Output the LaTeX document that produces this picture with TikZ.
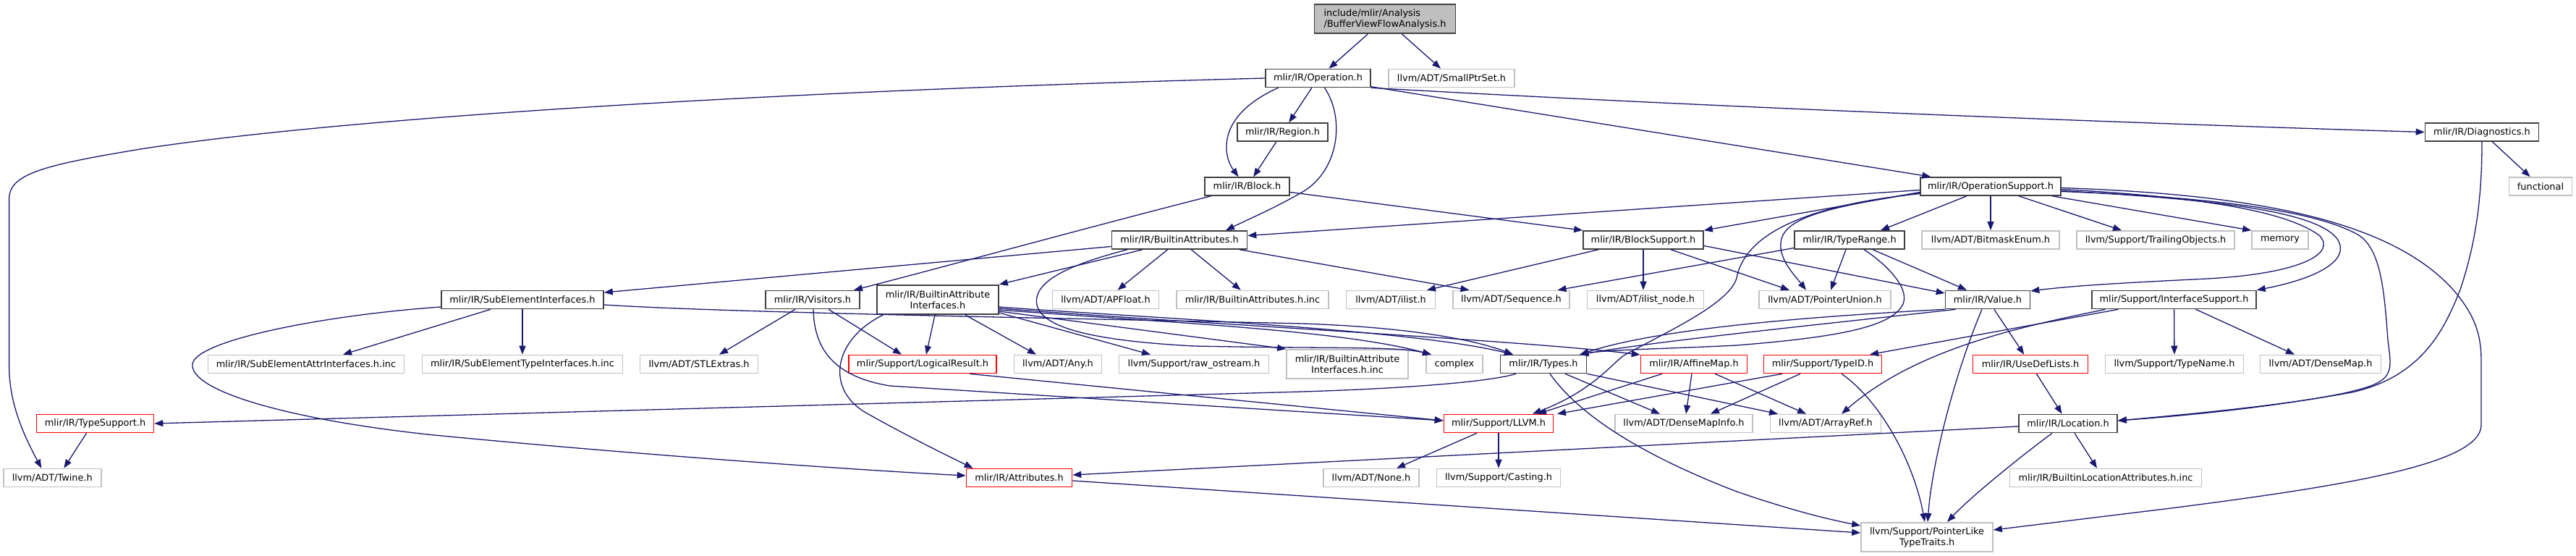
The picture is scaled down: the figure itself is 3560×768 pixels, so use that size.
\documentclass[tikz,border=0pt]{standalone}
\usepackage{fontspec}
\setmainfont{DejaVu Sans}
\usetikzlibrary{arrows.meta,calc}
\definecolor{edgec}{HTML}{191970}
\definecolor{grayb}{HTML}{C0C0C0}
\definecolor{darkb}{HTML}{404040}
\definecolor{redb}{HTML}{FF0000}
\definecolor{rootfill}{HTML}{BFBFBF}
\begin{document}
\begin{tikzpicture}[x=1pt,y=-1pt,
  nbase/.style={rectangle, inner sep=0pt, minimum height=25pt, line width=1.6pt,
    font=\fontsize{12.9pt}{15pt}\selectfont, text=black},
  bk/.style={nbase, draw=darkb},
  gy/.style={nbase, draw=grayb},
  rd/.style={nbase, draw=redb},
  two/.style={minimum height=40.5pt, align=center},
  e/.style={draw=edgec, line width=1.3pt, -{Triangle[length=12pt,width=9pt]}}]
\useasboundingbox (0,0) rectangle (3560,768);
% row 0
\node[bk, fill=rootfill, minimum width=195pt, minimum height=40.5pt, align=left] (root) at (1914,26) {include/mlir/Analysis\\/BufferViewFlowAnalysis.h};
% row 1
\node[bk, minimum width=145pt] (op) at (1821.5,108) {mlir/IR/Operation.h};
\node[gy, minimum width=174pt] (sps) at (2006,108) {llvm/ADT/SmallPtrSet.h};
% row 2
\node[bk, minimum width=125pt] (region) at (1772.5,182.5) {mlir/IR/Region.h};
\node[bk, minimum width=157pt] (diag) at (3430,182.5) {mlir/IR/Diagnostics.h};
% row 3
\node[bk, minimum width=117pt] (block) at (1723.5,257.5) {mlir/IR/Block.h};
\node[bk, minimum width=194pt] (opsup) at (2751,257.5) {mlir/IR/OperationSupport.h};
\node[gy, minimum width=87pt] (func) at (3511,257.5) {functional};
% row 4
\node[bk, minimum width=187pt] (battr) at (1630,331.5) {mlir/IR/BuiltinAttributes.h};
\node[bk, minimum width=166pt] (bsup) at (2271,331.5) {mlir/IR/BlockSupport.h};
\node[bk, minimum width=152pt] (trange) at (2556,331.5) {mlir/IR/TypeRange.h};
\node[gy, minimum width=190pt] (bitmask) at (2751,331.5) {llvm/ADT/BitmaskEnum.h};
\node[gy, minimum width=218pt] (trailing) at (2979,331.5) {llvm/Support/TrailingObjects.h};
\node[gy, minimum width=78pt] (memory) at (3151,331.5) {memory};
% row 5
\node[bk, minimum width=224pt] (subel) at (722,414) {mlir/IR/SubElementInterfaces.h};
\node[bk, minimum width=130pt] (visitors) at (1123,414) {mlir/IR/Visitors.h};
\node[bk, two, minimum width=168pt] (bai) at (1296,414) {mlir/IR/BuiltinAttribute\\Interfaces.h};
\node[gy, minimum width=147pt] (apfloat) at (1528,414) {llvm/ADT/APFloat.h};
\node[gy, minimum width=210pt] (bainc) at (1731,414) {mlir/IR/BuiltinAttributes.h.inc};
\node[gy, minimum width=123pt] (ilist) at (1922,414) {llvm/ADT/ilist.h};
\node[gy, minimum width=161pt] (seq) at (2088.5,414) {llvm/ADT/Sequence.h};
\node[gy, minimum width=161pt] (ilnode) at (2274,414) {llvm/ADT/ilist\_node.h};
\node[gy, minimum width=182pt] (punion) at (2522,414) {llvm/ADT/PointerUnion.h};
\node[bk, minimum width=117pt] (value) at (2747,414) {mlir/IR/Value.h};
\node[bk, minimum width=227pt] (isup) at (3004.5,414) {mlir/Support/InterfaceSupport.h};
% row 6
\node[gy, minimum width=271pt] (seattr) at (423,503) {mlir/IR/SubElementAttrInterfaces.h.inc};
\node[gy, minimum width=277pt] (setype) at (722,503) {mlir/IR/SubElementTypeInterfaces.h.inc};
\node[gy, minimum width=163pt] (stl) at (966,503) {llvm/ADT/STLExtras.h};
\node[rd, minimum width=204pt] (logres) at (1275,503) {mlir/Support/LogicalResult.h};
\node[gy, minimum width=121pt] (any) at (1462,503) {llvm/ADT/Any.h};
\node[gy, minimum width=207pt] (rawos) at (1650,503) {llvm/Support/raw\_ostream.h};
\node[gy, two, minimum width=168pt] (baiinc) at (1862,503) {mlir/IR/BuiltinAttribute\\Interfaces.h.inc};
\node[gy, minimum width=78pt] (complex) at (2010,503) {complex};
\node[bk, minimum width=119pt] (types) at (2133,503) {mlir/IR/Types.h};
\node[rd, minimum width=147pt] (affine) at (2341,503) {mlir/IR/AffineMap.h};
\node[rd, minimum width=163pt] (typeid) at (2519,503) {mlir/Support/TypeID.h};
\node[rd, minimum width=159pt] (usedef) at (2806,503) {mlir/IR/UseDefLists.h};
\node[gy, minimum width=191pt] (typename) at (3005,503) {llvm/Support/TypeName.h};
\node[gy, minimum width=167pt] (densemap) at (3207,503) {llvm/ADT/DenseMap.h};
% row 7
\node[rd, minimum width=162pt] (typesup) at (131.5,585) {mlir/IR/TypeSupport.h};
\node[rd, minimum width=151pt] (llvm) at (2071,585) {mlir/Support/LLVM.h};
\node[gy, minimum width=190pt] (dmi) at (2327,585) {llvm/ADT/DenseMapInfo.h};
\node[gy, minimum width=153pt] (aref) at (2523,585) {llvm/ADT/ArrayRef.h};
\node[bk, minimum width=136pt] (loc) at (2858,585) {mlir/IR/Location.h};
% row 8
\node[gy, minimum width=135pt] (twine) at (72.3,660) {llvm/ADT/Twine.h};
\node[rd, minimum width=146pt] (attrs) at (1408.5,660) {mlir/IR/Attributes.h};
\node[gy, minimum width=132pt] (none) at (1895,660) {llvm/ADT/None.h};
\node[gy, minimum width=171pt] (casting) at (2071,660) {llvm/Support/Casting.h};
\node[gy, minimum width=265pt] (blattr) at (2910,660) {mlir/IR/BuiltinLocationAttributes.h.inc};
% row 9
\node[gy, two, minimum width=182pt] (pltt) at (2663,742) {llvm/Support/PointerLike\\TypeTraits.h};

% ---- edges ----
\draw[e] (root) -- (op);
\draw[e] (root) -- (sps);
\draw[e] (op.west) .. controls (1100,125) and (500,160) .. (200,205) .. controls (60,228) and (12.6,240) .. (12.6,275) -- (12.6,505) .. controls (12.6,560) and (35,605) .. ($(twine.north)+(-15,0)$);
\draw[e] (op) -- (region);
\draw[e] ($(op.south)+(-55,0)$) .. controls (1680,160) and (1690,215) .. ($(block.north)+(-12,0)$);
\draw[e] ($(op.south)+(9,0)$) .. controls (1860,165) and (1850,240) .. (1795,268) .. controls (1760,288) and (1725,303) .. ($(battr.north)+(64,0)$);
\draw[e] (op) -- (opsup);
\draw[e] (op.south east) .. controls (2400,150) and (3000,172) .. (diag.west);
\draw[e] (region) -- (block);
\draw[e] ($(block.east)+(0,8)$) -- (bsup.north west);
\draw[e] ($(block.south)+(-50,0)$) .. controls (1500,315) and (1300,370) .. ($(visitors.north)+(57,0)$);
% BuiltinAttributes
\draw[e] ($(battr.west)+(0,9)$) -- ($(subel.east)+(0,-10)$);
\draw[e] ($(battr.south)+(-51,0)$) -- (bai.north east);
\draw[e] (battr) -- (apfloat);
\draw[e] (battr) -- (bainc);
\draw[e] ($(battr.south)+(83,0)$) -- ($(seq.north)+(-58,0)$);
\draw[e] ($(battr.south)+(-72,0)$) .. controls (1500,360) and (1440,380) .. (1433,410) .. controls (1425,450) and (1500,470) .. (1650,478) .. controls (1850,482) and (1930,478) .. ($(complex.north)+(-32,0)$);
% OperationSupport
\draw[e] ($(opsup.west)+(0,5)$) -- ($(battr.east)+(0,-6)$);
\draw[e] ($(opsup.west)+(0,8)$) -- (bsup.north east);
\draw[e] ($(opsup.south)+(-33,0)$) -- ($(trange.north)+(43,0)$);
\draw[e] (opsup) -- (bitmask);
\draw[e] ($(opsup.south)+(39,0)$) -- ($(trailing.north)+(-47,0)$);
\draw[e] ($(opsup.south)+(85,0)$) -- (memory.north west);
\draw[e] ($(opsup.east)+(0,4)$) .. controls (3000,270) and (3150,285) .. (3205,325) .. controls (3230,350) and (3180,378) .. (3050,385) .. controls (2950,390) and (2870,394) .. ($(value.east)+(0,-12)$);
\draw[e] ($(opsup.east)+(0,6)$) .. controls (3050,275) and (3200,290) .. (3230,330) .. controls (3250,360) and (3200,385) .. (isup.north east);
\draw[e] ($(opsup.east)+(0,7)$) .. controls (3050,272) and (3200,290) .. (3260,325) .. controls (3290,345) and (3295,400) .. (3300,470) .. controls (3305,510) and (3310,525) .. (3260,538) .. controls (3200,555) and (3050,570) .. ($(loc.east)+(0,-4)$);
\draw[e] ($(opsup.east)+(0,2)$) .. controls (3100,268) and (3300,300) .. (3390,400) .. controls (3425,440) and (3429,470) .. (3429,500) -- (3429,587) .. controls (3429,640) and (3250,670) .. (3000,702) -- ($(pltt.east)+(0,-10)$);
\draw[e] ($(opsup.west)+(0,9)$) .. controls (2530,285) and (2470,300) .. (2462,330) .. controls (2455,355) and (2480,380) .. ($(punion.north)+(-26,0)$);
\draw[e] ($(opsup.west)+(0,10)$) .. controls (2480,285) and (2410,330) .. (2400,384) .. controls (2390,420) and (2300,460) .. (2244,491) .. controls (2225,505) and (2200,540) .. ($(llvm.north)+(47,0)$);
% Diagnostics
\draw[e] (diag) -- (func);
\draw[e] (diag.south) .. controls (3430,280) and (3420,340) .. (3400,400) .. controls (3380,450) and (3350,520) .. (3250,542) .. controls (3150,560) and (3050,572) .. ($(loc.east)+(0,-4)$);
% BlockSupport
\draw[e] ($(bsup.south)+(-62,0)$) -- ($(ilist.north)+(50,0)$);
\draw[e] (bsup.south) -- ($(ilnode.north)+(-3,0)$);
\draw[e] ($(bsup.south)+(38,0)$) -- ($(punion.north)+(-49,0)$);
\draw[e] ($(bsup.east)+(0,8)$) -- ($(value.west)+(0,-9)$);
% TypeRange
\draw[e] ($(trange.west)+(0,11)$) -- ($(seq.north)+(64,0)$);
\draw[e] ($(trange.south)+(-5,0)$) -- ($(punion.north)+(8,0)$);
\draw[e] ($(trange.south)+(32,0)$) -- ($(value.north)+(-29,0)$);
\draw[e] ($(trange.south)+(20,0)$) .. controls (2600,360) and (2640,395) .. (2630,420) .. controls (2615,450) and (2550,465) .. (2400,477) .. controls (2300,482) and (2220,483) .. ($(types.north east)+(-10,0)$);
% Value
\draw[e] (value.south west) .. controls (2450,440) and (2280,458) .. ($(types.north east)+(-10,0)$);
\draw[e] ($(value.south west)+(15,0)$) .. controls (2500,450) and (2300,470) .. ($(types.north east)+(-10,0)$);
\draw[e] (value) -- (usedef);
\draw[e] ($(value.south)+(-8,0)$) .. controls (2700,520) and (2670,640) .. ($(pltt.north)+(1,0)$);
\draw[e] (usedef) -- (loc);
% InterfaceSupport
\draw[e] ($(isup.south)+(-77,0)$) -- ($(typeid.north)+(65,0)$);
\draw[e] ($(isup.south)+(-95,0)$) .. controls (2800,450) and (2650,480) .. ($(aref.north)+(22,0)$);
\draw[e] (isup) -- (typename);
\draw[e] ($(isup.south)+(30,0)$) -- ($(densemap.north)+(-36,0)$);
% SubElementInterfaces
\draw[e] ($(subel.south)+(-44,0)$) -- ($(seattr.north)+(51,0)$);
\draw[e] (subel) -- (setype);
\draw[e] ($(subel.west)+(0,10)$) .. controls (450,435) and (270,470) .. (266,503) .. controls (262,540) and (400,580) .. (600,601) .. controls (900,630) and (1200,650) .. ($(attrs.west)+(0,-3)$);
\draw[e] ($(subel.east)+(0,7)$) .. controls (1000,432) and (1500,440) .. (1800,447) .. controls (1950,452) and (2040,470) .. ($(types.north)+(-42,0)$);
% Visitors
\draw[e] ($(visitors.south)+(-24,0)$) -- ($(stl.north)+(28,0)$);
\draw[e] ($(visitors.south)+(22,0)$) -- ($(logres.north)+(-29,0)$);
\draw[e] ($(visitors.south)+(1,0)$) .. controls (1125,480) and (1150,520) .. (1230,533) -- ($(llvm.west)+(0,-4)$);
\draw[e] ($(logres.south)+(65,0)$) -- ($(llvm.west)+(0,-4)$);
% BuiltinAttributeInterfaces
\draw[e] ($(bai.south west)+(9,0)$) .. controls (1150,470) and (1140,540) .. (1200,572) .. controls (1250,600) and (1300,625) .. ($(attrs.north west)+(10,0)$);
\draw[e] ($(bai.south)+(-4,0)$) -- ($(logres.north)+(5,0)$);
\draw[e] ($(bai.south)+(38,0)$) -- ($(any.north)+(-30,0)$);
\draw[e] ($(bai.east)+(0,18)$) -- ($(rawos.north)+(-60,0)$);
\draw[e] ($(bai.east)+(0,16)$) -- (baiinc.north west);
\draw[e] ($(bai.east)+(0,14)$) .. controls (1600,445) and (1850,455) .. ($(complex.north)+(-32,0)$);
\draw[e] ($(bai.east)+(0,10)$) .. controls (1600,440) and (1950,455) .. ($(types.north)+(-42,0)$);
\draw[e] ($(bai.east)+(0,12)$) .. controls (1700,450) and (2100,470) .. ($(affine.west)+(0,-13)$);
% Types
\draw[e] ($(types.south)+(-38,0)$) .. controls (2050,530) and (1900,538) .. (1800,541) -- (typesup.east);
\draw[e] ($(types.south)+(30,0)$) -- ($(dmi.north)+(-33,0)$);
\draw[e] (types.south east) -- ($(aref.north)+(-66,0)$);
\draw[e] ($(types.south)+(9,0)$) .. controls (2180,570) and (2260,625) .. (2400,679) .. controls (2470,703) and (2520,716) .. ($(pltt.west)+(0,-16)$);
% AffineMap
\draw[e] ($(affine.south)+(-44,0)$) -- ($(llvm.north)+(54,0)$);
\draw[e] ($(affine.south)+(-3,0)$) -- ($(dmi.north)+(3,0)$);
\draw[e] ($(affine.south)+(29,0)$) -- ($(aref.north)+(-27,0)$);
% TypeID
\draw[e] ($(typeid.south)+(-56,0)$) -- ($(llvm.north)+(81,0)$);
\draw[e] ($(typeid.south)+(-31,0)$) -- ($(dmi.north)+(37,0)$);
\draw[e] ($(typeid.south)+(26,0)$) .. controls (2600,555) and (2645,640) .. ($(pltt.north)+(-3,0)$);
% Location
\draw[e] ($(loc.west)+(0,4)$) -- ($(attrs.east)+(0,-4)$);
\draw[e] ($(loc.south)+(-22,0)$) .. controls (2780,640) and (2720,690) .. ($(pltt.north)+(28,0)$);
\draw[e] ($(loc.south)+(9,0)$) -- ($(blattr.north)+(-12,0)$);
% LLVM
\draw[e] ($(llvm.south)+(-30,0)$) -- ($(none.north)+(35,0)$);
\draw[e] (llvm) -- (casting);
% TypeSupport
\draw[e] ($(typesup.south)+(-12,0)$) -- ($(twine.north)+(16,0)$);
% Attributes
\draw[e] ($(attrs.east)+(0,4)$) -- ($(pltt.west)+(0,-6)$);
\end{tikzpicture}
\end{document}
